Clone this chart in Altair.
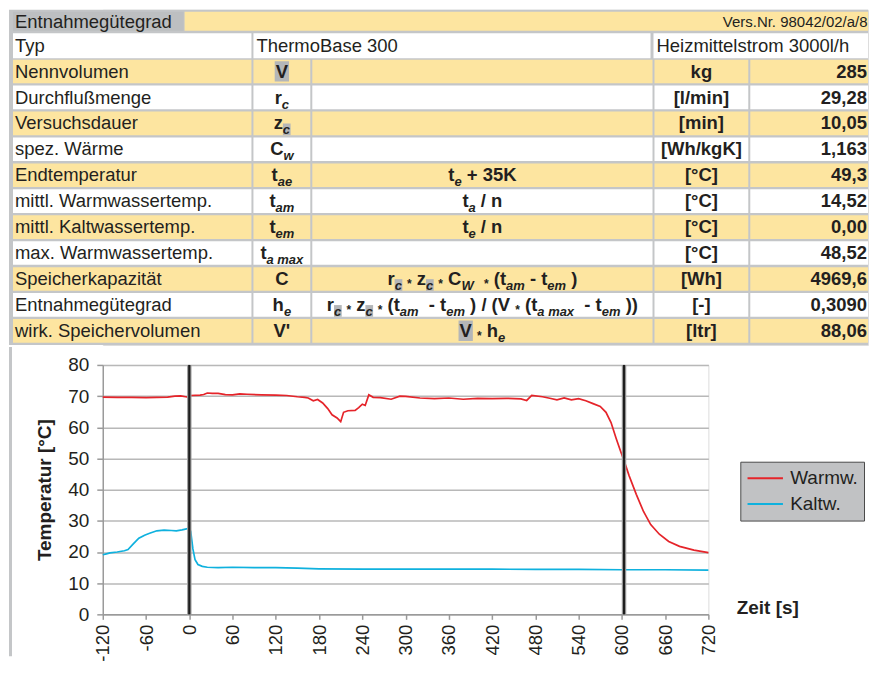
import altair as alt
import pandas as pd

FONT = "Liberation Sans"
INK = "#231f20"
YELLOW = "#fde5a0"
WHITE = "#ffffff"
LINE_GRAY = "#c4c6c8"
HEAD_GRAY = "#bdbfc1"
MARK_GRAY = "#b4b6b8"

# ---------------- table content ----------------
header_title = "Entnahmegütegrad"
header_ref = "Vers.Nr. 98042/02/a/8"
typ_label = "Typ"
typ_model = "ThermoBase 300"
typ_flow = "Heizmittelstrom 3000l/h"

labels = ["Nennvolumen", "Durchflußmenge", "Versuchsdauer", "spez. Wärme", "Endtemperatur",
          "mittl. Warmwassertemp.", "mittl. Kaltwassertemp.", "max. Warmwassertemp.",
          "Speicherkapazität", "Entnahmegütegrad", "wirk. Speichervolumen"]
units = ["kg", "[l/min]", "[min]", "[Wh/kgK]", "[°C]", "[°C]", "[°C]", "[°C]", "[Wh]", "[-]", "[ltr]"]
values = ["285", "29,28", "10,05", "1,163", "49,3", "14,52", "0,00", "48,52", "4969,6", "0,3090", "88,06"]

# rich text: (text, kind)  b=bold, s=subscript, sh=subscript highlighted, bh=bold highlighted, op=operator
symbols = [
    [("V", "bh")],
    [("r", "b"), ("c", "s")],
    [("z", "b"), ("c", "sh")],
    [("C", "b"), ("w", "s")],
    [("t", "b"), ("ae", "s")],
    [("t", "b"), ("am", "s")],
    [("t", "b"), ("em", "s")],
    [("t", "b"), ("a max", "s")],
    [("C", "b")],
    [("h", "b"), ("e", "s")],
    [("V'", "b")],
]
formulas = [
    [], [], [], [],
    [("t", "b"), ("e", "s"), (" + 35K", "b")],
    [("t", "b"), ("a", "s"), (" / n", "b")],
    [("t", "b"), ("e", "s"), (" / n", "b")],
    [],
    [("r", "b"), ("c", "sh"), (" ", "b"), ("*", "op"), (" z", "b"), ("c", "sh"), (" ", "b"), ("*", "op"),
     (" C", "b"), ("W", "s"), ("  ", "b"), ("*", "op"), (" (t", "b"), ("am", "s"), (" - t", "b"),
     ("em", "s"), (" )", "b")],
    [("r", "b"), ("c", "sh"), (" ", "b"), ("*", "op"), (" z", "b"), ("c", "sh"), (" ", "b"), ("*", "op"),
     (" (t", "b"), ("am", "s"), ("  - t", "b"), ("em", "s"), (" ) / (V ", "b"), ("*", "op"), (" (t", "b"),
     ("a max", "s"), ("  - t", "b"), ("em", "s"), (" ))", "b")],
    [("V", "bh"), (" ", "b"), ("*", "op"), (" h", "b"), ("e", "s")],
]

# ---------------- chart data ----------------
warm_t = [-120, -100, -80, -60, -45, -30, -20, -12, -5, 0,
          2, 15, 20, 25, 32, 40, 50, 60, 70, 80,
          100, 120, 135, 150, 160, 165, 172, 178, 185, 192,
          198, 205, 210, 214, 220, 230, 235, 240, 244, 249,
          255, 265, 280, 292, 300, 320, 340, 360, 380, 400,
          420, 440, 460, 468, 475, 490, 500, 510, 520, 530,
          540, 550, 560, 570, 578, 585, 592, 598, 603, 610,
          620, 630, 640, 652, 665, 680, 700, 720]
warm_T = [69.7, 69.6, 69.6, 69.5, 69.6, 69.7, 70.0, 70.1, 69.8, 69.6,
          70.2, 70.3, 70.5, 71.0, 70.9, 70.9, 70.5, 70.4, 70.7, 70.6,
          70.4, 70.3, 70.2, 69.8, 69.6, 69.4, 68.5, 68.9, 67.8, 66.0,
          64.0, 63.0, 61.8, 64.8, 65.3, 65.4, 66.3, 67.4, 67.0, 70.4,
          69.6, 69.5, 69.0, 70.0, 69.9, 69.4, 69.2, 69.4, 69.0, 69.3,
          69.2, 69.3, 69.1, 68.6, 70.2, 69.8, 69.3, 68.8, 69.4, 68.8,
          69.2, 68.5, 67.6, 66.7, 64.8, 61.5, 56.5, 52.5, 49.3, 44.5,
          38.5, 33.0, 28.8, 25.7, 23.4, 21.8, 20.6, 19.8]
cold_t = [-120, -115, -110, -100, -90, -85, -78, -70, -62, -55,
          -45, -35, -25, -18, -10, -4, 0, 2, 5, 8,
          12, 18, 25, 40, 60, 90, 120, 150, 180, 240,
          300, 360, 420, 480, 540, 600, 660, 720]
cold_T = [19.1, 19.4, 19.7, 20.0, 20.4, 20.8, 22.5, 24.4, 25.4, 26.0,
          26.8, 27.0, 26.9, 26.8, 27.1, 27.4, 27.8, 26.5, 21.0, 17.5,
          16.0, 15.4, 15.1, 15.0, 15.1, 15.0, 15.0, 14.8, 14.6, 14.5,
          14.5, 14.5, 14.5, 14.4, 14.4, 14.3, 14.3, 14.2]
series_names = ["Warmw.", "Kaltw."]
series_colors = ["#e5242a", "#0fb1de"]
marker_t = [0, 603]
x_ticks = [-120, -60, 0, 60, 120, 180, 240, 300, 360, 420, 480, 540, 600, 660, 720]
y_ticks = [0, 10, 20, 30, 40, 50, 60, 70, 80]

# ---------------- table layout ----------------
TW, TH = 861, 336
LEFT = 94            # width of the area left of the plot's y axis
ROW_H = 23.7
ROW_PITCH = 26.0
FIRST_ROW = 50
col_edges = [(4, 243), (245, 302), (304, 645), (647, 741), (743, TW)]
typ_edges = [(4, 243), (245, 643), (646, TW)]
TYP_TOP, TYP_H = 23.5, 25
M, S, OP = 18.5, 13, 12

BOLD_W = {' ': 278, "'": 238, '(': 333, ')': 333, '*': 389, '+': 584, '-': 333, '.': 278, '/': 278,
          'A': 722, 'C': 722, 'K': 722, 'V': 667, 'W': 944, 'a': 556, 'c': 556, 'e': 556, 'h': 611,
          'm': 889, 'n': 611, 'r': 389, 't': 333, 'w': 778, 'x': 556, 'z': 500}


def tw(s, size):
    return sum(BOLD_W.get(ch, 556) for ch in s) * size / 1000.0


def layout_rich(segments, cx, top, bold_rows, ital_rows, boxes):
    sizes = [M if k in ("b", "bh") else (S if k in ("s", "sh") else OP) for _, k in segments]
    widths = [tw(t, sz) for (t, _), sz in zip(segments, sizes)]
    x = cx - sum(widths) / 2.0
    base = top + 18
    for (txt, kind), sz, w in zip(segments, sizes, widths):
        lead = len(txt) - len(txt.lstrip(" "))
        xs = x + tw(" " * lead, sz)
        body = txt.strip()
        if kind in ("b", "bh"):
            if body:
                bold_rows.append(dict(text=body, x=xs, y=base, size=sz))
            if kind == "bh":
                boxes.append(dict(x=x - 1, x2=x + w + 1, y=top + 1.5, y2=top + 22))
        elif kind in ("s", "sh"):
            ital_rows.append(dict(text=body, x=xs, y=base + 5, size=sz))
            if kind == "sh":
                boxes.append(dict(x=x, x2=x + w + 0.5, y=base + 5 - 11, y2=top + ROW_H))
        else:
            bold_rows.append(dict(text=body, x=xs, y=base + 3, size=sz))
        x += w


cells = [dict(x=0, x2=TW, y=0, y2=TH, fill=LINE_GRAY),
         dict(x=4, x2=175, y=2, y2=21, fill=HEAD_GRAY),
         dict(x=176, x2=TW, y=2, y2=21, fill=YELLOW)]
for a, b in typ_edges:
    cells.append(dict(x=a, x2=b, y=TYP_TOP, y2=TYP_TOP + TYP_H, fill=WHITE))

reg_left = [dict(text=header_title, x=6, y=17.8, size=M),
            dict(text=typ_label, x=6, y=TYP_TOP + 18.5, size=M),
            dict(text=typ_model, x=248, y=TYP_TOP + 18.5, size=M),
            dict(text=typ_flow, x=649, y=TYP_TOP + 18.5, size=M)]
reg_right = [dict(text=header_ref, x=TW - 0.5, y=17.5, size=15)]
bold_center, bold_right, frag_bold, frag_ital, boxes = [], [], [], [], []

for i, lab in enumerate(labels):
    top = FIRST_ROW + ROW_PITCH * i
    fill = YELLOW if i % 2 == 0 else WHITE
    for a, b in col_edges:
        cells.append(dict(x=a, x2=b, y=top, y2=top + ROW_H, fill=fill))
    reg_left.append(dict(text=lab, x=6, y=top + 18, size=M))
    bold_center.append(dict(text=units[i], x=(col_edges[3][0] + col_edges[3][1]) / 2, y=top + 18, size=M))
    bold_right.append(dict(text=values[i], x=TW - 1, y=top + 18, size=M))
    layout_rich(symbols[i], (col_edges[1][0] + col_edges[1][1]) / 2, top, frag_bold, frag_ital, boxes)
    if formulas[i]:
        layout_rich(formulas[i], (col_edges[2][0] + col_edges[2][1]) / 2, top, frag_bold, frag_ital, boxes)

# the table's view starts where the plot starts; its left part extends over the axis area
tx = alt.Scale(domain=[LEFT, TW], nice=False, zero=False)
ty = alt.Scale(domain=[0, TH], nice=False, zero=False, reverse=True)


def rect_layer(rows, color=None):
    ch = alt.Chart(pd.DataFrame(rows))
    mk = ch.mark_rect(color=color) if color else ch.mark_rect()
    enc = dict(x=alt.X("x:Q", scale=tx, axis=None), x2="x2:Q",
               y=alt.Y("y:Q", scale=ty, axis=None), y2="y2:Q")
    if not color:
        enc["fill"] = alt.Fill("fill:N", scale=None, legend=None)
    return mk.encode(**enc)


def text_layer(rows, align, weight, style="normal"):
    return alt.Chart(pd.DataFrame(rows)).mark_text(
        align=align, baseline="alphabetic", font=FONT, fontWeight=weight, fontStyle=style, color=INK
    ).encode(
        x=alt.X("x:Q", scale=tx, axis=None),
        y=alt.Y("y:Q", scale=ty, axis=None),
        text="text:N",
        size=alt.Size("size:Q", scale=None, legend=None),
    )


table = alt.layer(
    rect_layer(cells),
    rect_layer(boxes, MARK_GRAY),
    text_layer(reg_left, "left", "normal"),
    text_layer(reg_right, "right", "normal"),
    text_layer(bold_center, "center", "bold"),
    text_layer(bold_right, "right", "bold"),
    text_layer(frag_bold, "left", "bold"),
    text_layer(frag_ital, "left", "bold", "italic"),
).properties(width=TW - LEFT, height=TH)

# ---------------- line chart ----------------
df = pd.concat([
    pd.DataFrame({"t": warm_t, "T": warm_T, "series": series_names[0]}),
    pd.DataFrame({"t": cold_t, "T": cold_T, "series": series_names[1]}),
])
xs = alt.Scale(domain=[-120, 720], nice=False, zero=False)
ys = alt.Scale(domain=[0, 80], nice=False, zero=True)

x_axis = alt.Axis(values=x_ticks, labelAngle=270, labelFontSize=18.5, labelColor=INK, labelPadding=5,
                  labelExpr="'' + datum.value",
                  tickSize=5, tickColor="#9a9a9a", tickWidth=1.5, domainColor="#9a9a9a", domainWidth=1.5,
                  grid=False, labelOverlap=False, labelFlush=False,
                  title="Zeit [s]", titleFontSize=19, titleFontWeight="bold", titleColor=INK,
                  titleX=666, titleY=-1, titleAlign="center", titleBaseline="alphabetic")
y_axis = alt.Axis(values=y_ticks, labelFontSize=19, labelColor=INK, labelPadding=8,
                  tickSize=6, tickColor="#9a9a9a", tickWidth=1.5, domainColor="#9a9a9a", domainWidth=1.5,
                  grid=True, gridColor="#b8b8b8", gridWidth=1.5,
                  title="Temperatur [°C]", titleFontSize=19, titleFontWeight="bold", titleColor=INK,
                  titlePadding=13)

strip = alt.Chart(pd.DataFrame({"k": [0]})).mark_rect(color=LINE_GRAY).encode(
    x=alt.value(-LEFT), x2=alt.value(-LEFT + 3), y=alt.value(-18), y2=alt.value(292))

lines = alt.Chart(df).mark_line(strokeWidth=1.7).encode(
    x=alt.X("t:Q", scale=xs, axis=x_axis),
    y=alt.Y("T:Q", scale=ys, axis=y_axis),
    color=alt.Color("series:N", scale=alt.Scale(domain=series_names, range=series_colors),
                    legend=alt.Legend(title=None, orient="none", legendX=639, legendY=97,
                                      fillColor="#c1c2c4", strokeColor="#4a4a4a", padding=6,
                                      symbolType="stroke", symbolSize=1260, symbolStrokeWidth=2,
                                      labelFontSize=19, labelFont=FONT, labelColor=INK, labelOffset=6,
                                      clipHeight=21, rowPadding=5)),
)
mk_df = pd.DataFrame({"t": marker_t})
halo = alt.Chart(mk_df).mark_rule(color="#a0a0a0", strokeWidth=4.5).encode(x=alt.X("t:Q", scale=xs))
core = alt.Chart(mk_df).mark_rule(color="#1e1e1e", strokeWidth=2.2).encode(x=alt.X("t:Q", scale=xs))

plot = alt.layer(strip, lines, halo, core).properties(width=607, height=250)

chart = alt.concat(table, plot, columns=1, spacing=0).resolve_legend(
    color="independent").properties(padding=0).configure_view(stroke=None).configure(font=FONT)

chart.save("out.html", embed_options={"renderer": "svg", "actions": False})
